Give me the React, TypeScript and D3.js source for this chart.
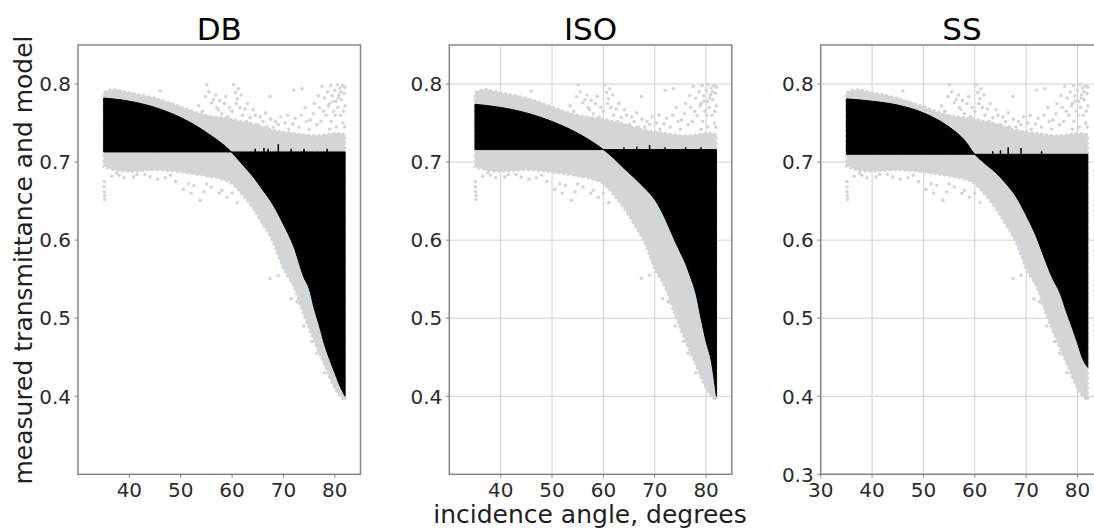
import React from 'react';
import * as d3 from 'd3';

// ---------- data ----------
const panelNames = ['DB', 'ISO', 'SS'];

// measured transmittance cloud (same in every panel): envelope of the dense band
const measuredAngles = [35, 36, 37, 40, 45, 50, 55, 58, 60, 62, 64, 66, 68, 70, 72, 74, 76, 78, 80, 81, 82];
const measuredUpper = [0.789, 0.792, 0.793, 0.789, 0.782, 0.771, 0.760, 0.757, 0.755, 0.752, 0.749, 0.745, 0.741, 0.739, 0.737, 0.735, 0.734, 0.735, 0.737, 0.737, 0.735];
const measuredLower = [0.694, 0.692, 0.690, 0.688, 0.690, 0.687, 0.682, 0.678, 0.672, 0.658, 0.641, 0.620, 0.597, 0.563, 0.540, 0.503, 0.470, 0.440, 0.410, 0.400, 0.395];

// scattered measured points outside the dense band
const outlierAngles = [46.0, 54.8, 55.1, 56.0, 56.4, 57.0, 57.3, 58.0, 58.5, 59.2, 60.3, 60.6, 61.2, 61.0, 61.5, 60.0, 62.0, 62.8, 63.5, 64.1, 65.0, 66.0, 66.8, 67.4, 68.0, 69.0, 70.3, 71.0, 72.0, 72.3, 73.0, 73.6, 74.5, 75.2, 75.8, 76.5, 77.0, 77.5, 78.0, 78.3, 78.6, 79.0, 79.2, 79.5, 79.8, 80.0, 80.2, 80.5, 80.6, 80.8, 81.0, 81.1, 81.3, 81.5, 81.6, 81.8, 82.0, 81.9, 80.3, 79.3,
  53.5, 54.2, 55.5, 56.8, 57.6, 58.8, 59.5, 60.8, 61.8, 62.5, 63.0, 64.5, 65.5, 66.5, 67.5, 68.5, 69.5, 70.8, 71.8, 73.5, 74.2, 76.0, 76.8, 77.8, 78.8, 79.6, 80.1, 80.7, 81.2, 81.7, 82.0, 79.0, 77.3, 75.0,
  35.1, 35.1, 35.1, 35.2, 35.2, 36.5, 38.0, 40.8, 43.0, 47.0, 50.5, 51.5, 52.6, 53.8, 54.5, 56.0, 57.5, 59.0, 67.4, 69.0, 70.3, 71.5, 72.6, 73.0, 74.0, 75.5, 76.5, 78.0, 79.0,
  37.5, 39.0, 41.5, 44.0, 45.5, 48.0, 49.0, 52.0, 55.0, 58.0, 60.0, 61.0];
const outlierValues = [0.791, 0.784, 0.799, 0.776, 0.780, 0.770, 0.767, 0.762, 0.775, 0.758, 0.799, 0.789, 0.794, 0.781, 0.770, 0.765, 0.760, 0.752, 0.757, 0.767, 0.748, 0.752, 0.745, 0.784, 0.745, 0.748, 0.750, 0.742, 0.792, 0.756, 0.745, 0.794, 0.752, 0.754, 0.762, 0.748, 0.770, 0.797, 0.782, 0.760, 0.790, 0.775, 0.798, 0.785, 0.765, 0.792, 0.778, 0.799, 0.770, 0.786, 0.795, 0.760, 0.780, 0.798, 0.750, 0.788, 0.772, 0.745, 0.745, 0.752,
  0.772, 0.765, 0.790, 0.786, 0.779, 0.784, 0.770, 0.775, 0.786, 0.768, 0.775, 0.760, 0.758, 0.763, 0.755, 0.752, 0.758, 0.760, 0.749, 0.760, 0.770, 0.775, 0.785, 0.765, 0.772, 0.778, 0.760, 0.782, 0.790, 0.765, 0.796, 0.742, 0.752, 0.742,
  0.675, 0.668, 0.662, 0.657, 0.652, 0.682, 0.683, 0.681, 0.684, 0.680, 0.665, 0.672, 0.670, 0.651, 0.662, 0.668, 0.660, 0.655, 0.551, 0.555, 0.568, 0.525, 0.521, 0.520, 0.490, 0.470, 0.455, 0.430, 0.425,
  0.686, 0.680, 0.684, 0.681, 0.678, 0.683, 0.675, 0.660, 0.672, 0.664, 0.660, 0.648];

// model curves (one per panel)
const dbModelAngles = [35, 40, 45, 50, 55, 60, 62, 64, 66, 68, 70, 72, 74, 75, 76, 77, 78, 79, 80, 81, 82];
const dbModelValues = [0.782, 0.778, 0.770, 0.757, 0.738, 0.712, 0.697, 0.682, 0.664, 0.645, 0.620, 0.592, 0.552, 0.538, 0.512, 0.490, 0.466, 0.447, 0.430, 0.413, 0.400];
const dbBase = 0.713;
const dbSpikeAngles = [64.5, 66.2, 67.0, 69.0, 71.5, 74.0, 78.5];
const dbSpikeValues = [0.717, 0.718, 0.717, 0.723, 0.717, 0.717, 0.717];

const isoModelAngles = [35, 40, 45, 50, 55, 60, 62, 64, 66, 68, 70, 72, 73, 74, 75, 76, 77, 78, 79, 80, 81, 82];
const isoModelValues = [0.774, 0.770, 0.763, 0.752, 0.737, 0.716, 0.705, 0.692, 0.680, 0.667, 0.652, 0.628, 0.613, 0.598, 0.584, 0.570, 0.552, 0.532, 0.500, 0.470, 0.445, 0.400];
const isoBase = 0.716;
const isoSpikeAngles = [64.0, 66.5, 69.0, 72.0, 76.0, 79.0];
const isoSpikeValues = [0.719, 0.720, 0.722, 0.719, 0.719, 0.719];

const ssModelAngles = [35, 40, 45, 50, 55, 58, 60, 62, 64, 66, 68, 70, 72, 73.5, 75, 76.6, 78, 79, 80, 81, 82];
const ssModelValues = [0.781, 0.778, 0.773, 0.763, 0.745, 0.728, 0.710, 0.698, 0.687, 0.673, 0.656, 0.632, 0.604, 0.578, 0.553, 0.532, 0.505, 0.487, 0.468, 0.448, 0.437];
const ssBase = 0.710;
const ssSpikeAngles = [63.5, 65.0, 66.5, 69.0, 73.0];
const ssSpikeValues = [0.714, 0.715, 0.719, 0.718, 0.714];

const xTicksMain = [40, 50, 60, 70, 80];
const xTicksSS = [30, 40, 50, 60, 70, 80];
const yTicksMain = [0.4, 0.5, 0.6, 0.7, 0.8];
const yTicksSS = [0.3, 0.4, 0.5, 0.6, 0.7, 0.8];

// ---------- layout ----------
const W = 1094;
const H = 528;
const TOP = 45;
const BOTTOM = 474.3;
const PW = 282.5;
const FONT = 'DejaVu Sans, sans-serif';
const GREY = '#d3d6d9';
const FRAME = '#858585';

const panels = [
  { name: panelNames[0], left: 78, grid: false, xTicks: xTicksMain, yTicks: yTicksMain, mA: dbModelAngles, mV: dbModelValues, base: dbBase, sA: dbSpikeAngles, sV: dbSpikeValues },
  { name: panelNames[1], left: 449.3, grid: true, xTicks: xTicksMain, yTicks: yTicksMain, mA: isoModelAngles, mV: isoModelValues, base: isoBase, sA: isoSpikeAngles, sV: isoSpikeValues },
  { name: panelNames[2], left: 820.7, grid: true, xTicks: xTicksSS, yTicks: yTicksSS, mA: ssModelAngles, mV: ssModelValues, base: ssBase, sA: ssSpikeAngles, sV: ssSpikeValues },
];

function Panel({ p, idx }: { p: any; idx: number }) {
  const x = d3.scaleLinear().domain([30, 85]).range([p.left, p.left + PW]);
  const y = d3.scaleLinear().domain([0.3, 0.85]).range([BOTTOM, TOP]);
  const greyPath = d3
    .area<number>()
    .x((d) => x(d))
    .y0((d, i) => y(measuredLower[i]))
    .y1((d, i) => y(measuredUpper[i]))
    .curve(d3.curveMonotoneX)(measuredAngles) as string;
  const modelPath = d3
    .area<number>()
    .x((d) => x(d))
    .y0(() => y(p.base))
    .y1((d, i) => y(p.mV[i]))
    .curve(d3.curveMonotoneX)(p.mA) as string;
  const clipId = `clip-${idx}`;
  return (
    <g>
      <defs>
        <clipPath id={clipId}>
          <rect x={p.left} y={TOP} width={PW} height={BOTTOM - TOP} />
        </clipPath>
      </defs>
      <rect x={p.left} y={TOP} width={PW} height={BOTTOM - TOP} fill="#fff" />
      {p.grid &&
        p.xTicks.map((t: number) => (
          <line key={'gx' + t} x1={x(t)} x2={x(t)} y1={TOP} y2={BOTTOM} stroke="#d0d0d0" strokeWidth={1} />
        ))}
      {p.grid &&
        p.yTicks.map((t: number) => (
          <line key={'gy' + t} x1={p.left} x2={p.left + PW} y1={y(t)} y2={y(t)} stroke="#d0d0d0" strokeWidth={1} />
        ))}
      <g clipPath={`url(#${clipId})`}>
        <path d={greyPath} fill={GREY} stroke={GREY} strokeWidth={2.5} strokeDasharray="3 2" />
        {outlierAngles.map((a, i) => (
          <circle key={'o' + i} cx={x(a)} cy={y(outlierValues[i])} r={1.8} fill={GREY} />
        ))}
        <path d={modelPath} fill="#000" stroke="#000" strokeWidth={1} />
        {p.sA.map((a: number, i: number) => (
          <line key={'s' + i} x1={x(a)} x2={x(a)} y1={y(p.base)} y2={y(p.sV[i])} stroke="#000" strokeWidth={1.5} />
        ))}
      </g>
      <rect x={p.left} y={TOP} width={PW} height={BOTTOM - TOP} fill="none" stroke={FRAME} strokeWidth={1.5} />
      {p.xTicks.map((t: number) => (
        <g key={'xt' + t}>
          <line x1={x(t)} x2={x(t)} y1={BOTTOM} y2={BOTTOM + 3.5} stroke={FRAME} strokeWidth={1} />
          <text x={x(t)} y={BOTTOM + 22.5} textAnchor="middle" fontSize={20} fontFamily={FONT} fill="#2b2b2b">
            {t}
          </text>
        </g>
      ))}
      {p.yTicks.map((t: number) => (
        <g key={'yt' + t}>
          <line x1={p.left - 3.5} x2={p.left} y1={y(t)} y2={y(t)} stroke={FRAME} strokeWidth={1} />
          <text x={p.left - 7} y={y(t) + 7.3} textAnchor="end" fontSize={20} fontFamily={FONT} fill="#2b2b2b">
            {t.toFixed(1)}
          </text>
        </g>
      ))}
      <text x={p.left + PW / 2} y={40} textAnchor="middle" fontSize={31} fontFamily={FONT} fill="#000">
        {p.name}
      </text>
    </g>
  );
}

export default function App() {
  return (
    <svg width={W} height={H} style={{ position: 'absolute', left: 0, top: 0, background: '#fff' }}>
      <rect x={0} y={0} width={W} height={H} fill="#fff" />
      {panels.map((p, i) => (
        <Panel key={p.name} p={p} idx={i} />
      ))}
      <text
        transform="translate(32,260) rotate(-90)"
        textAnchor="middle"
        fontSize={25}
        fontFamily={FONT}
        fill="#1f1f1f"
      >
        measured transmittance and model
      </text>
      <text x={590} y={523} textAnchor="middle" fontSize={25} fontFamily={FONT} fill="#1f1f1f">
        incidence angle, degrees
      </text>
    </svg>
  );
}
